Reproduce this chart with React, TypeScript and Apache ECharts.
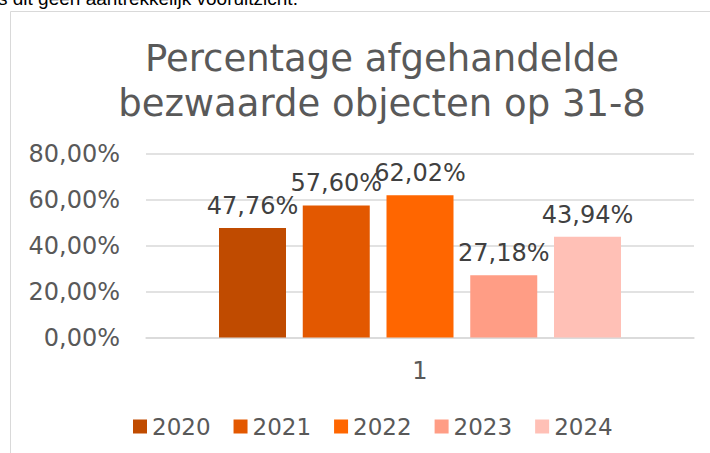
import React, { useEffect, useRef } from "react";
import * as echarts from "echarts";

const categories = ["1"];
const seriesNames = ["2020", "2021", "2022", "2023", "2024"];
const seriesValues = [47.76, 57.6, 62.02, 27.18, 43.94];
const seriesColors = ["#C04B00", "#E35800", "#FF6600", "#FF9D85", "#FFC0B6"];
const yTicks = { min: 0, max: 80, interval: 20 };
const titleLines = ["Percentage afgehandelde", "bezwaarde objecten op 31-8"];
const aboveText = "s dit geen aantrekkelijk vooruitzicht.";

const fmt = (v: number) => v.toFixed(2).replace(".", ",") + "%";
const FONT = "DejaVu Sans";

export default function App() {
  const ref = useRef<HTMLDivElement>(null);
  useEffect(() => {
    document.body.style.margin = "0";
    const chart = echarts.init(ref.current!, null, { renderer: "svg" });
    chart.setOption({
      animation: false,
      backgroundColor: "#ffffff",
      title: {
        text: titleLines.join("\n"),
        left: 377,
        textAlign: "center",
        top: 31,
        textStyle: {
          fontFamily: FONT,
          fontSize: 37,
          fontWeight: "normal",
          color: "#595959",
          lineHeight: 45,
        },
      },
      graphic: [
        {
          type: "rect",
          shape: { x: 10.5, y: 11.5, width: 760, height: 500 },
          style: { fill: "none", stroke: "#D9D9D9", lineWidth: 1 },
          silent: true,
        },
        {
          type: "text",
          x: -2,
          y: 8,
          style: {
            text: aboveText,
            fontFamily: "Liberation Sans",
            fontSize: 19,
            fill: "#000000",
            verticalAlign: "bottom",
          },
        },
      ],
      legend: {
        data: seriesNames,
        left: 128,
        top: 410,
        icon: "rect",
        itemWidth: 14,
        itemHeight: 14,
        itemGap: 23,
        textStyle: { fontFamily: FONT, fontSize: 23, color: "#595959" },
      },
      grid: { left: 146, right: 16, top: 154, bottom: 115.5 },
      xAxis: {
        type: "category",
        data: categories,
        axisLine: { lineStyle: { color: "#D9D9D9", width: 1.5 } },
        axisTick: { show: false },
        axisLabel: {
          fontFamily: FONT,
          fontSize: 24,
          color: "#595959",
          margin: 21,
        },
      },
      yAxis: {
        type: "value",
        min: yTicks.min,
        max: yTicks.max,
        interval: yTicks.interval,
        axisLine: { show: false },
        axisTick: { show: false },
        splitLine: { lineStyle: { color: "#D9D9D9", width: 1.5 } },
        axisLabel: {
          fontFamily: FONT,
          fontSize: 24,
          color: "#595959",
          margin: 26,
          formatter: (v: number) => fmt(v),
        },
      },
      series: seriesNames.map((name, i) => ({
        name,
        type: "bar",
        data: [seriesValues[i]],
        barWidth: 67,
        barGap: "25%",
        itemStyle: { color: seriesColors[i] },
        label: {
          show: true,
          position: "top",
          distance: 10,
          fontFamily: FONT,
          fontSize: 24,
          color: "#404040",
          formatter: (p: any) => fmt(p.value),
        },
      })),
    });
    return () => chart.dispose();
  }, []);
  return <div ref={ref} style={{ width: 710, height: 453 }} />;
}
